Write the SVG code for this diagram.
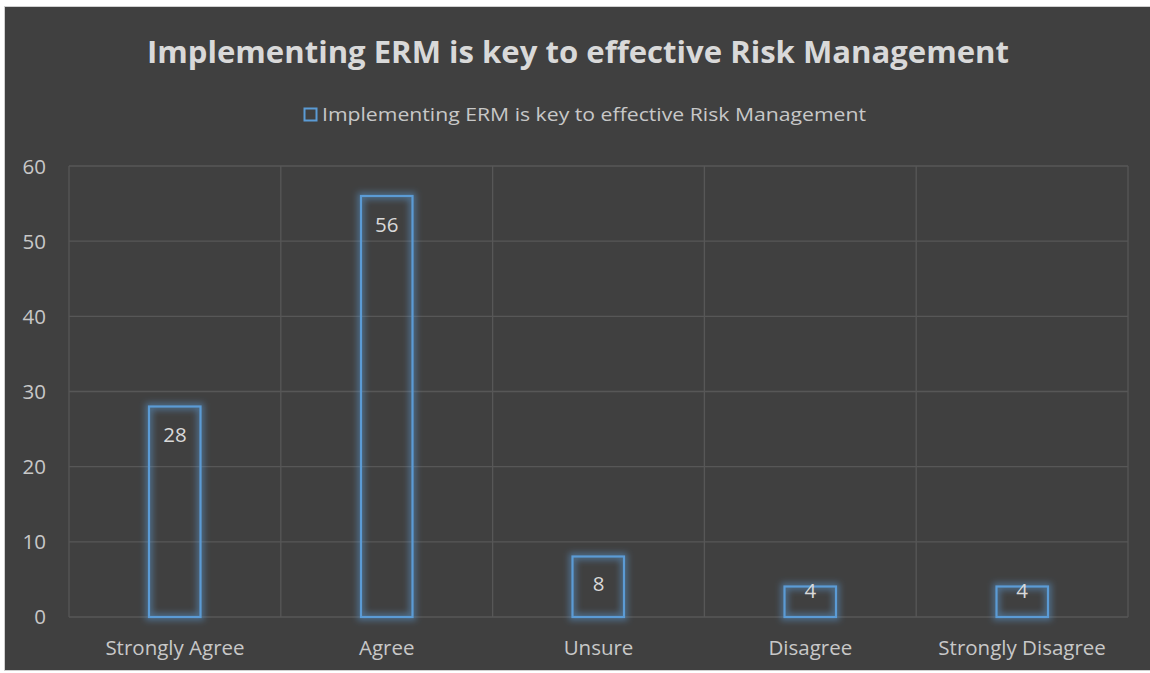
<svg xmlns="http://www.w3.org/2000/svg" width="1150" height="673" viewBox="0 0 1150 673">
<defs>
<style>
.grid{stroke:#575757;stroke-width:1.3;fill:none}
.bar{fill:none;stroke:#5B9BD5;stroke-width:2.2}
.glow{fill:none;stroke:#5B9BD5;stroke-width:7;stroke-opacity:0.5}
.ax{font-family:"Open Sans","Noto Sans",sans-serif;font-size:20.5px;fill:#C8C8C8}
.val{font-family:"Open Sans","Noto Sans",sans-serif;font-size:20.5px;fill:#D9D9D9;text-anchor:middle}
.cat{font-family:"Open Sans","Noto Sans",sans-serif;font-size:20.5px;fill:#C8C8C8;text-anchor:middle}
.title{font-family:"Open Sans","Noto Sans",sans-serif;font-size:31px;font-weight:bold;fill:#D9D9D9}
.leg{font-family:"Open Sans","Noto Sans",sans-serif;font-size:18.5px;fill:#C8C8C8}
</style>
<filter id="blur" x="-50%" y="-50%" width="200%" height="200%"><feGaussianBlur stdDeviation="3"/></filter>
</defs>
<rect x="0" y="0" width="1150" height="673" fill="#FFFFFF"/>
<rect x="4.5" y="6.5" width="1146" height="664" fill="#404040" stroke="#D0D0D0" stroke-width="1"/>
<text class="title" x="578" y="62.5" text-anchor="middle" textLength="862" lengthAdjust="spacingAndGlyphs">Implementing ERM is key to effective Risk Management</text>
<g id="legend">
<rect x="304.5" y="108.5" width="12" height="12" fill="none" stroke="#5B9BD5" stroke-width="2"/>
<text class="leg" x="322" y="121" textLength="544" lengthAdjust="spacingAndGlyphs">Implementing ERM is key to effective Risk Management</text>
</g>
<g id="grid">
<line class="grid" x1="69" y1="166" x2="1128" y2="166"/>
<line class="grid" x1="69" y1="241.2" x2="1128" y2="241.2"/>
<line class="grid" x1="69" y1="316.3" x2="1128" y2="316.3"/>
<line class="grid" x1="69" y1="391.5" x2="1128" y2="391.5"/>
<line class="grid" x1="69" y1="466.7" x2="1128" y2="466.7"/>
<line class="grid" x1="69" y1="541.8" x2="1128" y2="541.8"/>
<line class="grid" x1="69" y1="617" x2="1128" y2="617"/>
<line class="grid" x1="69" y1="166" x2="69" y2="617"/>
<line class="grid" x1="280.8" y1="166" x2="280.8" y2="617"/>
<line class="grid" x1="492.6" y1="166" x2="492.6" y2="617"/>
<line class="grid" x1="704.4" y1="166" x2="704.4" y2="617"/>
<line class="grid" x1="916.2" y1="166" x2="916.2" y2="617"/>
<line class="grid" x1="1128" y1="166" x2="1128" y2="617"/>
</g>
<g id="yaxis">
<text class="ax" x="46" y="173.5" text-anchor="end">60</text>
<text class="ax" x="46" y="248.5" text-anchor="end">50</text>
<text class="ax" x="46" y="323.5" text-anchor="end">40</text>
<text class="ax" x="46" y="399" text-anchor="end">30</text>
<text class="ax" x="46" y="474" text-anchor="end">20</text>
<text class="ax" x="46" y="549" text-anchor="end">10</text>
<text class="ax" x="46" y="624" text-anchor="end">0</text>
</g>
<g id="bar-strongly-agree">
<rect class="glow" filter="url(#blur)" x="149" y="406.5" width="51.5" height="210.5"/>
<rect class="bar" x="149" y="406.5" width="51.5" height="210.5"/>
<text class="val" x="175" y="441.5">28</text>
<text class="cat" x="175" y="655">Strongly Agree</text>
</g>
<g id="bar-agree">
<rect class="glow" filter="url(#blur)" x="361" y="196" width="51.5" height="421"/>
<rect class="bar" x="361" y="196" width="51.5" height="421"/>
<text class="val" x="386.7" y="231.5">56</text>
<text class="cat" x="386.7" y="655">Agree</text>
</g>
<g id="bar-unsure">
<rect class="glow" filter="url(#blur)" x="572.5" y="556.5" width="51.5" height="60.5"/>
<rect class="bar" x="572.5" y="556.5" width="51.5" height="60.5"/>
<text class="val" x="598.5" y="590.5">8</text>
<text class="cat" x="598.5" y="655">Unsure</text>
</g>
<g id="bar-disagree">
<rect class="glow" filter="url(#blur)" x="784.5" y="586.5" width="51.5" height="30.5"/>
<rect class="bar" x="784.5" y="586.5" width="51.5" height="30.5"/>
<text class="val" x="810.3" y="598">4</text>
<text class="cat" x="810.3" y="655">Disagree</text>
</g>
<g id="bar-strongly-disagree">
<rect class="glow" filter="url(#blur)" x="996.5" y="586.5" width="51.5" height="30.5"/>
<rect class="bar" x="996.5" y="586.5" width="51.5" height="30.5"/>
<text class="val" x="1022.1" y="598">4</text>
<text class="cat" x="1022.1" y="655">Strongly Disagree</text>
</g>
</svg>
